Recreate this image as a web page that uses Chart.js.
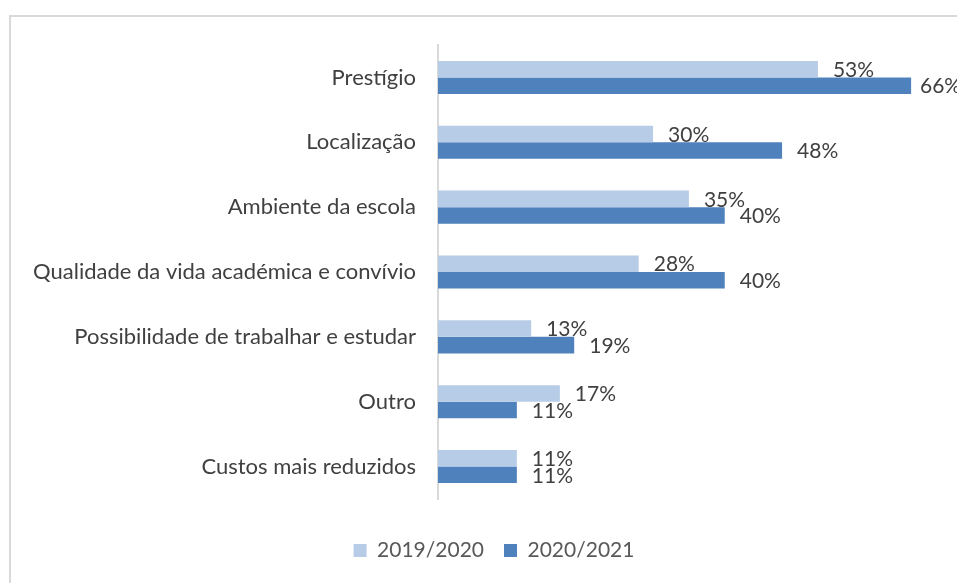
<!DOCTYPE html>
<html>
<head>
<meta charset="utf-8">
<script src="https://cdn.jsdelivr.net/npm/chart.js@4/dist/chart.umd.min.js"></script>
<style>
  html, body { margin: 0; padding: 0; background: #fff; overflow: hidden; }
  #wrap { position: relative; width: 957px; height: 583px; }
  #frame { position: absolute; left: 9px; top: 15px; width: 1000px; height: 1000px; border: 2px solid #d9d9d9; box-sizing: border-box; }
  #chart { position: absolute; left: 0; top: 0; }
</style>
</head>
<body>
<div id="wrap">
  <div id="frame"></div>
  <canvas id="chart" width="957" height="583"></canvas>
</div>
<script>
const categories = [
    'Prestígio',
    'Localização',
    'Ambiente da escola',
    'Qualidade da vida académica e convívio',
    'Possibilidade de trabalhar e estudar',
    'Outro',
    'Custos mais reduzidos'
];
const seriesNames = ['2019/2020', '2020/2021'];
const values2019 = [53, 30, 35, 28, 13, 17, 11];
const values2021 = [66, 48, 40, 40, 19, 11, 11];

const FONT = 'Lato, "Open Sans", sans-serif';

// draws the percentage next to the end of each bar
const barLabels = {
    id: 'barLabels',
    afterDatasetsDraw(chart) {
        const ctx = chart.ctx;
        ctx.save();
        ctx.font = '21px ' + FONT;
        ctx.fillStyle = '#404040';
        ctx.textAlign = 'left';
        ctx.textBaseline = 'middle';
        chart.data.datasets.forEach((ds, i) => {
            const meta = chart.getDatasetMeta(i);
            meta.data.forEach((bar, j) => {
                const x = Math.min(bar.x + 15, chart.width - 37);
                ctx.fillText(ds.data[j] + '%', x, bar.y + 1);
            });
        });
        ctx.restore();
    }
};

new Chart(document.getElementById('chart'), {
    type: 'bar',
    data: {
        labels: categories,
        datasets: [{
            label: seriesNames[0],
            data: values2019,
            backgroundColor: '#b7cce6',
            borderWidth: 0
        }, {
            label: seriesNames[1],
            data: values2021,
            backgroundColor: '#4f81bd',
            borderWidth: 0
        }]
    },
    options: {
        indexAxis: 'y',
        responsive: false,
        animation: false,
        events: [],
        barPercentage: 1,
        categoryPercentage: 0.51,
        // right padding is negative: the original legend is centred on a wider box
        layout: { padding: { left: 0, top: 45, right: -31, bottom: 12 } },
        plugins: {
            tooltip: { enabled: false },
            legend: {
                position: 'bottom',
                title: { display: true, text: '', font: { size: 1, lineHeight: 1 }, padding: { top: 20, bottom: 0 } },
                labels: {
                    boxWidth: 13,
                    boxHeight: 13,
                    padding: 20,
                    color: '#595959',
                    font: { family: FONT, size: 21 }
                }
            }
        },
        scales: {
            x: {
                display: false,
                min: 0,
                max: 72.4
            },
            y: {
                afterFit(scale) { scale.width = 438; },
                grid: { display: false, drawTicks: false, tickLength: 0 },
                border: { display: true, color: '#d9d9d9', width: 2 },
                ticks: {
                    padding: 22,
                    color: '#404040',
                    font: { family: FONT, size: 22 }
                }
            }
        }
    },
    plugins: [barLabels]
});
</script>
</body>
</html>
